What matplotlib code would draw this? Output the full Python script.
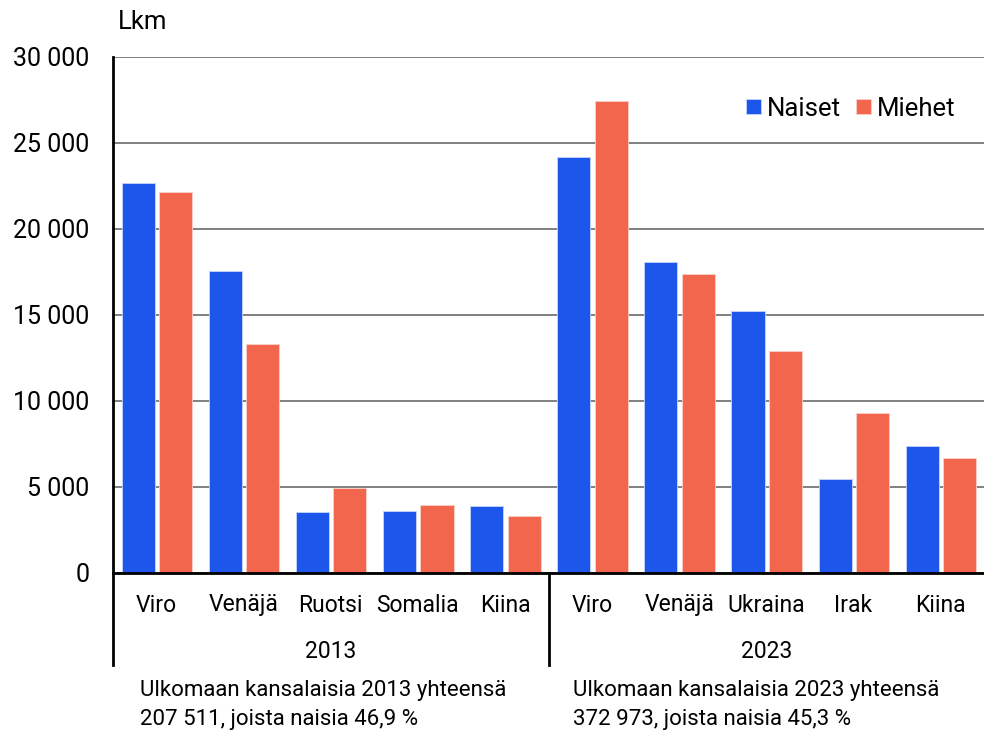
import numpy as np
import matplotlib.pyplot as plt
from matplotlib.lines import Line2D
from matplotlib.ticker import FuncFormatter

plt.rcParams['font.family'] = ['Roboto', 'DejaVu Sans']

countries = ['Viro', 'Venäjä', 'Ruotsi', 'Somalia', 'Kiina',
             'Viro', 'Venäjä', 'Ukraina', 'Irak', 'Kiina']
naiset = [22680, 17530, 3530, 3600, 3870, 24180, 18080, 15230, 5460, 7380]
miehet = [22160, 13310, 4930, 3950, 3320, 27440, 17380, 12910, 9300, 6680]
years = ['2013', '2023']
notes = ['Ulkomaan kansalaisia 2013 yhteensä\n207 511, joista naisia 46,9 %',
         'Ulkomaan kansalaisia 2023 yhteensä\n372 973, joista naisia 45,3 %']

blue = '#1c56eb'
red = '#f2664d'

fig = plt.figure(figsize=(9.84, 7.33), dpi=100)
ax = fig.add_axes([113 / 984, 1 - 573 / 733, 1 - 113 / 984, (573 - 57) / 733])

x = np.arange(len(countries))
w = 0.38
ax.bar(x - 0.21, naiset, w, color=blue, edgecolor='#c8d4fa', linewidth=0.6, label='Naiset', zorder=3)
ax.bar(x + 0.22, miehet, w, color=red, edgecolor='#fad0c8', linewidth=0.6, label='Miehet', zorder=3)

ax.set_xlim(-0.5, len(countries) - 0.5)
ax.set_ylim(0, 30000)
ax.set_yticks(np.arange(0, 30001, 5000))
ax.yaxis.set_major_formatter(FuncFormatter(lambda v, p: f'{int(v):,}'.replace(',', ' ')))
ax.tick_params(axis='y', length=0, pad=17, labelsize=18)
ax.set_xticks([])
ax.grid(axis='y', color='#808080', linewidth=1.4, zorder=0)
for s in ['top', 'right']:
    ax.spines[s].set_visible(False)
ax.spines['left'].set_linewidth(2)
ax.spines['bottom'].set_linewidth(2)
ax.spines['bottom'].set_zorder(4)

trans = ax.get_xaxis_transform()
low = -(665 - 573) / 516
for xv in [-0.5, 4.5]:
    ax.add_line(Line2D([xv, xv], [0, low], transform=trans, color='black',
                       linewidth=2, clip_on=False))

for i, c in enumerate(countries):
    ax.text(i, -(605 - 573) / 516, c, transform=trans, ha='center', va='center', fontsize=16.5)
for j, yr in enumerate(years):
    ax.text(2 + 5 * j, -(651 - 573) / 516, yr, transform=trans, ha='center', va='center', fontsize=16.5)

fig.text(140 / 984, 1 - 705 / 733, notes[0], ha='left', va='center', fontsize=16, linespacing=1.45)
fig.text(573 / 984, 1 - 705 / 733, notes[1], ha='left', va='center', fontsize=16, linespacing=1.45)

fig.text(118 / 984, 1 - 22 / 733, 'Lkm', ha='left', va='center', fontsize=18.5)

ax.legend(loc='upper right', bbox_to_anchor=(0.994, 0.968), frameon=False, ncol=2,
          fontsize=18.5, handlelength=0.55, handleheight=0.55, handletextpad=0.25,
          columnspacing=0.6)

fig.savefig('out.png', dpi=100)
